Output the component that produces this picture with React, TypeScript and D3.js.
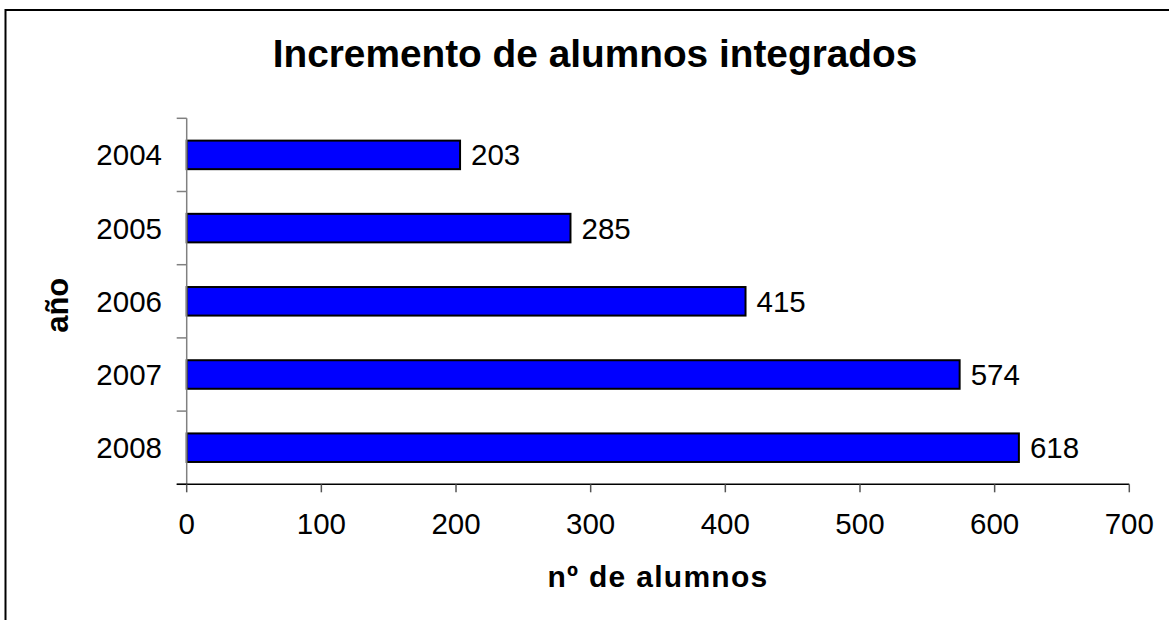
import React from "react";
import * as d3 from "d3";

const years: string[] = ["2004", "2005", "2006", "2007", "2008"];
const alumnos: number[] = [203, 285, 415, 574, 618];
const xTicks: number[] = [0, 100, 200, 300, 400, 500, 600, 700];
const title = "Incremento de alumnos integrados";
const xTitle = "nº de alumnos";
const yTitle = "año";

const W = 1169;
const H = 620;
const left = 186.7;
const right = 1129.3;
const top = 118.3;
const bottom = 484.3;
const FONT = "'Liberation Sans', Arial, Helvetica, sans-serif";

export default function App() {
  const x = d3.scaleLinear().domain([0, 700]).range([left, right]);
  const y = d3
    .scaleBand<string>()
    .domain(years)
    .range([top, bottom])
    .paddingInner(0.61)
    .paddingOuter(0.305);
  const step = y.step();
  const boundaries = d3.range(years.length + 1).map((i) => top + i * step);

  return (
    <svg
      width={W}
      height={H}
      style={{ position: "absolute", left: 0, top: 0, background: "#fff" }}
      fontFamily={FONT}
    >
      <rect x={0} y={0} width={W} height={H} fill="#fff" />
      <rect x={5.5} y={10} width={1300} height={800} fill="none" stroke="#000" strokeWidth={2} />

      <text x={595} y={67} textAnchor="middle" fontSize={38.8} fontWeight="bold" fill="#000">
        {title}
      </text>

      {/* bars */}
      {years.map((yr, i) => (
        <g key={yr}>
          <rect
            x={x(0)}
            y={y(yr)!}
            width={x(alumnos[i]) - x(0)}
            height={y.bandwidth()}
            fill="#0000FF"
            stroke="#000"
            strokeWidth={2}
          />
          <text
            x={x(alumnos[i]) + 11}
            y={y(yr)! + y.bandwidth() / 2 + 10.5}
            fontSize={29.5}
            fill="#000"
          >
            {alumnos[i]}
          </text>
          <text
            x={162}
            y={y(yr)! + y.bandwidth() / 2 + 10.5}
            fontSize={29.5}
            textAnchor="end"
            fill="#000"
          >
            {yr}
          </text>
        </g>
      ))}

      {/* y axis */}
      <line x1={left} x2={left} y1={top} y2={bottom} stroke="#808080" strokeWidth={1.5} />
      {boundaries.map((b, i) => (
        <line key={i} x1={left - 10} x2={left} y1={b} y2={b} stroke="#808080" strokeWidth={1.5} />
      ))}

      {/* x axis */}
      <line x1={left - 10} x2={right} y1={bottom} y2={bottom} stroke="#000" strokeWidth={1.5} />
      {xTicks.map((t) => (
        <g key={t}>
          <line x1={x(t)} x2={x(t)} y1={bottom} y2={bottom + 8} stroke="#555" strokeWidth={1.5} />
          <text x={x(t)} y={534} textAnchor="middle" fontSize={29.5} fill="#000">
            {t}
          </text>
        </g>
      ))}

      <text
        x={(left + right) / 2}
        y={587}
        textAnchor="middle"
        fontSize={30}
        fontWeight="bold"
        letterSpacing={1.3}
        fill="#000"
      >
        {xTitle}
      </text>
      <text
        transform={`translate(68, ${(top + bottom) / 2 + 4}) rotate(-90)`}
        textAnchor="middle"
        fontSize={31}
        fontWeight="bold"
        fill="#000"
      >
        {yTitle}
      </text>
    </svg>
  );
}
